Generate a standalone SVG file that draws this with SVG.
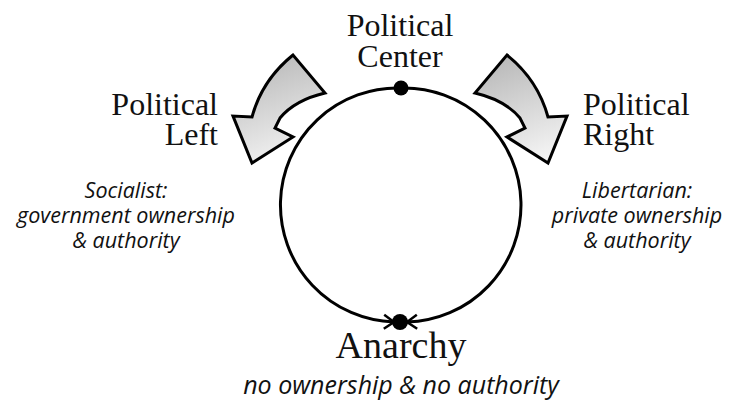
<svg xmlns="http://www.w3.org/2000/svg" width="733" height="404" viewBox="0 0 733 404">
<defs>
<linearGradient id="g" x1="0.3" y1="0" x2="0.6" y2="1">
<stop offset="0" stop-color="#b8b8b8"/>
<stop offset="1" stop-color="#f4f4f4"/>
</linearGradient>
<marker id="chev" viewBox="-12 -9 14 18" markerWidth="14" markerHeight="18" refX="0" refY="0" orient="auto" markerUnits="userSpaceOnUse">
<path d="M-10,-7 L0,0 L-10,7" fill="none" stroke="#000" stroke-width="2.5"/>
</marker>
</defs>
<style>
.title{font-family:"Liberation Serif",serif;font-size:32px;fill:#111}
.big{font-family:"Liberation Serif",serif;font-size:38px;fill:#111}
.sub{font-family:"Open Sans","Liberation Sans",sans-serif;font-style:italic;font-size:21.5px;fill:#111}
.sub2{font-family:"Open Sans","Liberation Sans",sans-serif;font-style:italic;font-size:25px;fill:#111}
.arrow{fill:url(#g);stroke:#000;stroke-width:3;stroke-linejoin:miter}
.dot{fill:#000}
</style>
<rect width="733" height="404" fill="#fff"/>
<g id="connectors">
<path d="M401,88 A117,117 0 0 0 394,322" fill="none" stroke="#000" stroke-width="3" marker-end="url(#chev)"/>
<path d="M401,88 A117,117 0 0 1 407,322" fill="none" stroke="#000" stroke-width="3" marker-end="url(#chev)"/>
<path class="arrow" d="M293,55 Q262,80 252,117 L233,116 L252,163 L293,137 L275,128 L280,118 Q295,100 325,93 Z"/>
<path class="arrow" d="M507,55 Q538,80 548,117 L567,116 L548,163 L507,137 L525,128 L520,118 Q505,100 475,93 Z"/>
</g>
<g id="center-node">
<circle class="dot" cx="401" cy="88" r="7.5"/>
<text class="title" x="400" y="36" text-anchor="middle">Political</text>
<text class="title" x="400" y="67" text-anchor="middle">Center</text>
</g>
<g id="left-node">
<text class="title" x="218" y="115" text-anchor="end">Political</text>
<text class="title" x="218" y="145" text-anchor="end">Left</text>
<text class="sub" x="126" y="198" text-anchor="middle">Socialist:</text>
<text class="sub" x="126" y="223" text-anchor="middle">government ownership</text>
<text class="sub" x="126" y="248" text-anchor="middle">&amp; authority</text>
</g>
<g id="right-node">
<text class="title" x="583" y="115">Political</text>
<text class="title" x="583" y="145">Right</text>
<text class="sub" x="637" y="198" text-anchor="middle">Libertarian:</text>
<text class="sub" x="637" y="223" text-anchor="middle">private ownership</text>
<text class="sub" x="637" y="248" text-anchor="middle">&amp; authority</text>
</g>
<g id="anarchy-node">
<circle class="dot" cx="400" cy="322" r="8"/>
<text class="big" x="401" y="358" text-anchor="middle">Anarchy</text>
<text class="sub2" x="401" y="394" text-anchor="middle">no ownership &amp; no authority</text>
</g>
</svg>
